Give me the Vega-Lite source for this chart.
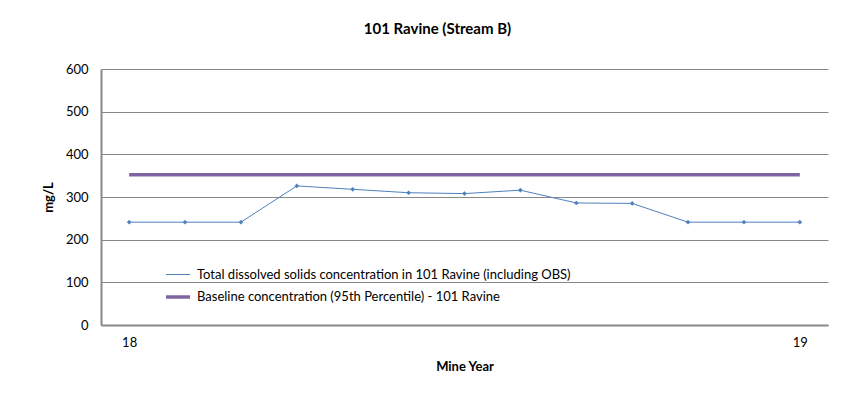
{
  "$schema": "https://vega.github.io/schema/vega-lite/v6.json",
  "autosize": {"type": "none"},
  "width": 727,
  "height": 256,
  "padding": {"left": 101, "top": 69, "right": 29, "bottom": 95},
  "background": "white",
  "config": {
    "font": "Lato",
    "view": {"stroke": null},
    "axis": {"labelFont": "Lato", "titleFont": "Lato", "labelColor": "#000", "titleColor": "#000"}
  },
  "title": {
    "text": "101 Ravine (Stream B)",
    "fontSize": 15,
    "fontWeight": "bold",
    "font": "Lato",
    "color": "#000",
    "anchor": "middle",
    "frame": "group",
    "dx": -27,
    "offset": 26
  },
  "data": {
    "values": [
      {"year": 18, "value": 241, "series": "Total dissolved solids concentration in 101 Ravine (including OBS)"},
      {"year": 18.0833, "value": 241, "series": "Total dissolved solids concentration in 101 Ravine (including OBS)"},
      {"year": 18.1667, "value": 241, "series": "Total dissolved solids concentration in 101 Ravine (including OBS)"},
      {"year": 18.25, "value": 326, "series": "Total dissolved solids concentration in 101 Ravine (including OBS)"},
      {"year": 18.3333, "value": 318, "series": "Total dissolved solids concentration in 101 Ravine (including OBS)"},
      {"year": 18.4167, "value": 310, "series": "Total dissolved solids concentration in 101 Ravine (including OBS)"},
      {"year": 18.5, "value": 308, "series": "Total dissolved solids concentration in 101 Ravine (including OBS)"},
      {"year": 18.5833, "value": 316, "series": "Total dissolved solids concentration in 101 Ravine (including OBS)"},
      {"year": 18.6667, "value": 286, "series": "Total dissolved solids concentration in 101 Ravine (including OBS)"},
      {"year": 18.75, "value": 285, "series": "Total dissolved solids concentration in 101 Ravine (including OBS)"},
      {"year": 18.8333, "value": 241, "series": "Total dissolved solids concentration in 101 Ravine (including OBS)"},
      {"year": 18.9167, "value": 241, "series": "Total dissolved solids concentration in 101 Ravine (including OBS)"},
      {"year": 19, "value": 241, "series": "Total dissolved solids concentration in 101 Ravine (including OBS)"},
      {"year": 18, "value": 352, "series": "Baseline  concentration (95th Percentile) - 101 Ravine"},
      {"year": 19, "value": 352, "series": "Baseline  concentration (95th Percentile) - 101 Ravine"}
    ]
  },
  "encoding": {
    "x": {
      "field": "year",
      "type": "quantitative",
      "scale": {"domain": [17.958, 19.042], "nice": false, "zero": false},
      "axis": {
        "title": "Mine Year",
        "titleFontSize": 13,
        "titleFontWeight": "bold",
        "titlePadding": 11,
        "values": [18, 19],
        "format": "d",
        "ticks": false,
        "grid": false,
        "labelFontSize": 13,
        "labelPadding": 11,
        "domainColor": "#888",
        "domainWidth": 2
      }
    },
    "y": {
      "field": "value",
      "type": "quantitative",
      "scale": {"domain": [0, 600], "nice": false},
      "axis": {
        "title": "mg/L",
        "titleFontSize": 13,
        "titleFontWeight": "bold",
        "titlePadding": 10,
        "values": [0, 100, 200, 300, 400, 500, 600],
        "ticks": false,
        "grid": true,
        "gridColor": "#888",
        "gridOpacity": 1,
        "labelFontSize": 13,
        "labelPadding": 13,
        "domainColor": "#888",
        "domainWidth": 2
      }
    }
  },
  "layer": [
    {
      "mark": {"type": "line"},
      "encoding": {
        "color": {
          "field": "series",
          "type": "nominal",
          "scale": {
            "domain": ["Total dissolved solids concentration in 101 Ravine (including OBS)", "Baseline  concentration (95th Percentile) - 101 Ravine"],
            "range": ["#4F81BD", "#8064A2"]
          },
          "legend": {
            "orient": "none",
            "legendX": 63,
            "legendY": 193,
            "title": null,
            "symbolType": "stroke",
            "symbolSize": 576,
            "labelFontSize": 13,
            "labelFont": "Lato",
            "labelColor": "#000",
            "labelLimit": 700,
            "rowPadding": 1,
            "labelOffset": 5,
            "encode": {
              "symbols": {
                "update": {
                  "strokeWidth": {"signal": "datum.value === 'Baseline  concentration (95th Percentile) - 101 Ravine' ? 3.5 : 1"}
                }
              }
            }
          }
        },
        "strokeWidth": {
          "field": "series",
          "type": "nominal",
          "scale": {
            "domain": ["Total dissolved solids concentration in 101 Ravine (including OBS)", "Baseline  concentration (95th Percentile) - 101 Ravine"],
            "range": [1, 3.5]
          },
          "legend": null
        }
      }
    },
    {
      "transform": [{"filter": "datum.series !== 'Baseline  concentration (95th Percentile) - 101 Ravine'"}],
      "mark": {"type": "point", "shape": "diamond", "filled": true, "size": 22, "color": "#4F81BD", "opacity": 1}
    }
  ]
}
